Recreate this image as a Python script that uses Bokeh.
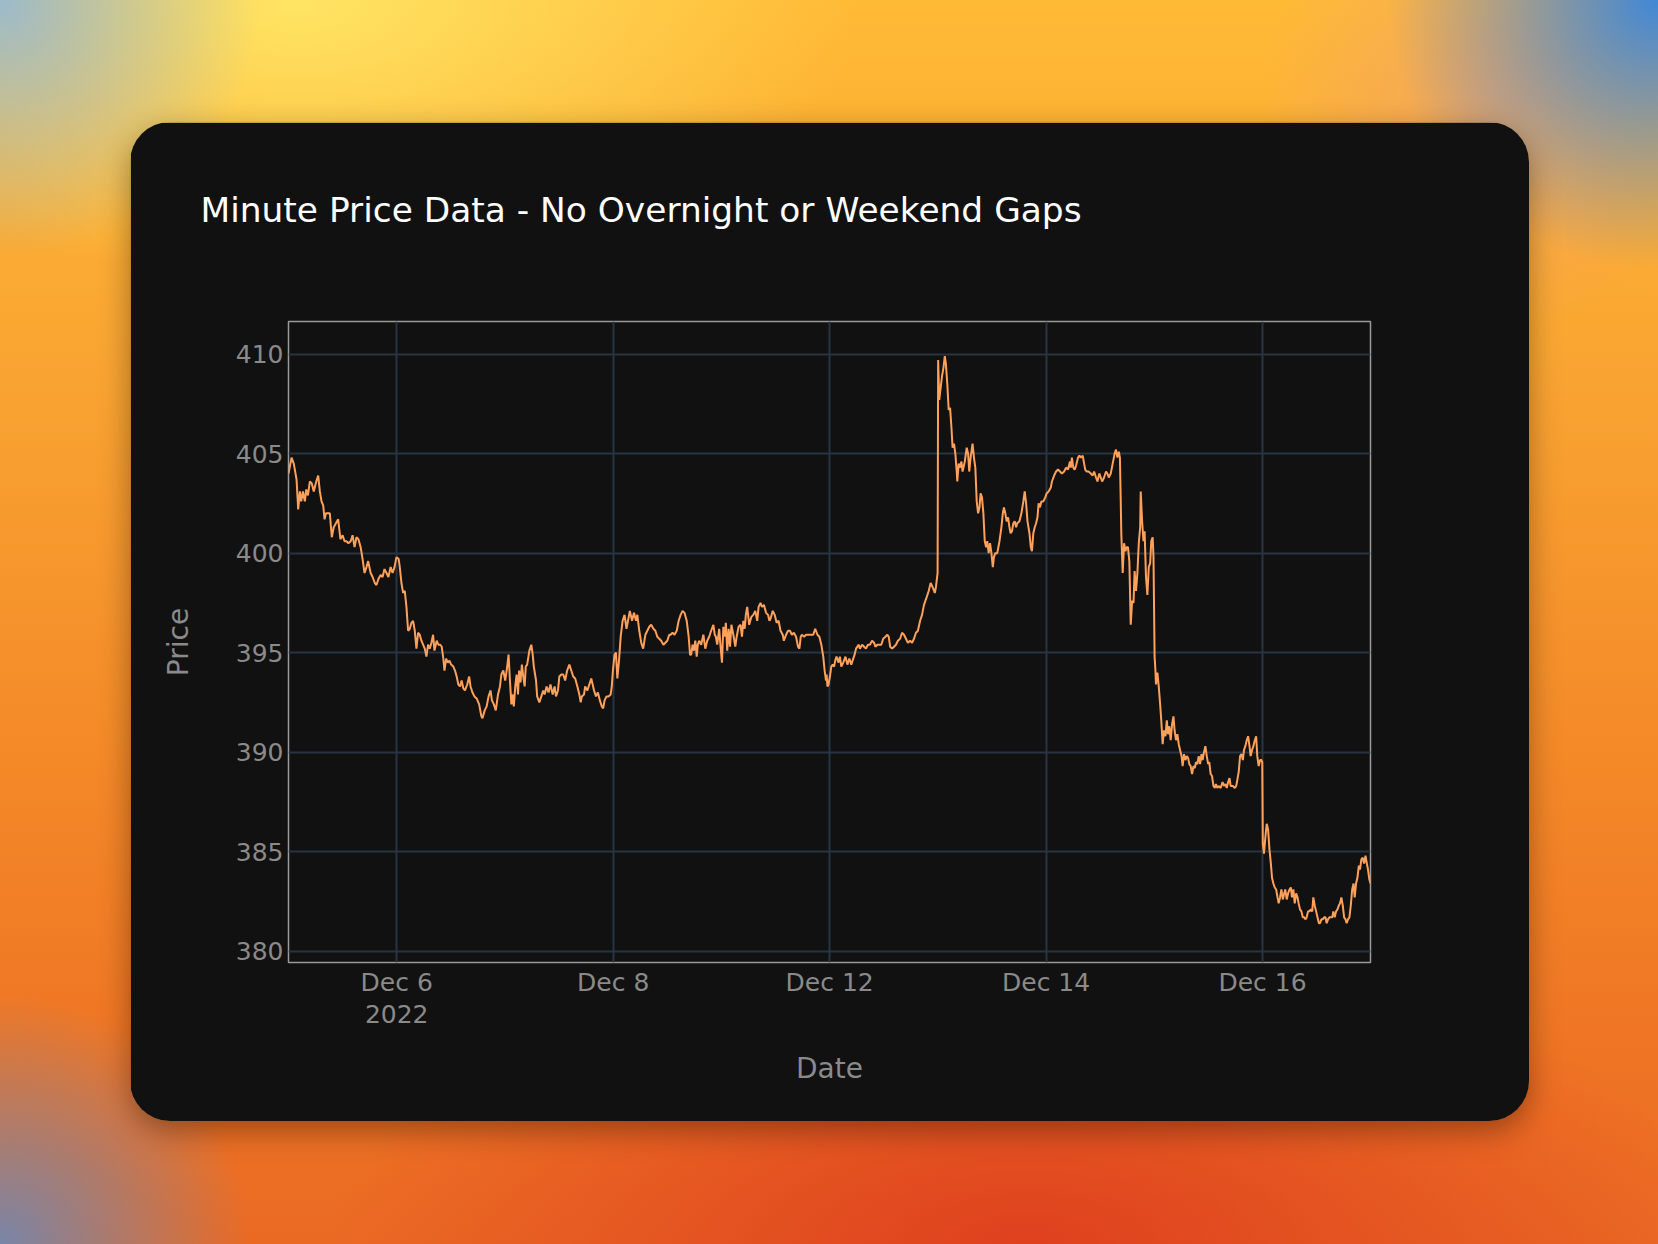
from bokeh.plotting import figure
from bokeh.models import ColumnDataSource, FixedTicker, Range1d, Title
from bokeh.layouts import column
from bokeh.embed import file_html
from bokeh.resources import INLINE

# ---------------- data ----------------
title_text = "Minute Price Data - No Overnight or Weekend Gaps"
x_title = "Date"
y_title = "Price"

# trading sessions shown (gaps for nights and weekends removed)
sessions = ["2022-12-05", "2022-12-06", "2022-12-07", "2022-12-08", "2022-12-09",
            "2022-12-12", "2022-12-13", "2022-12-14", "2022-12-15", "2022-12-16"]
minutes_per_session = 390

tick_sessions = [1, 3, 5, 7, 9]
tick_labels = ["Dec 6\n2022", "Dec 8", "Dec 12", "Dec 14", "Dec 16"]
y_ticks = [380, 385, 390, 395, 400, 405, 410]

# minute of trading (counted across sessions, no gaps) and price
minute = [
    0, 11, 19, 29, 35, 41, 46, 52, 59, 64, 70, 77, 84, 91, 100, 107, 113, 119, 125, 130,
    135, 142, 149, 156, 163, 171, 179, 187, 195, 202, 209, 216, 224, 231, 238, 245, 252, 260, 267, 274,
    281, 287, 296, 303, 311, 317, 324, 332, 339, 346, 353, 360, 368, 375, 382, 389,
    397, 401, 407, 413, 419, 425, 431, 437, 443, 449, 455, 461, 467, 473, 479, 485, 491, 497, 503, 509,
    515, 521, 526, 534, 540, 546, 552, 558, 562, 568, 574, 580, 586, 594, 600, 606, 612, 618, 624, 630,
    636, 644, 651, 656, 663, 670, 678, 687, 695, 699, 707, 714, 721, 728, 733, 740, 747, 755, 762, 767,
    774, 781, 788, 793, 798, 803, 807, 812, 817, 822, 827, 831, 836, 841, 846, 851, 855, 860, 868, 875,
    880, 884, 892, 896, 904, 911, 918, 923, 930, 937, 944, 952, 959, 964, 971, 976, 983, 990, 997, 1004,
    1012, 1019, 1026, 1033, 1041, 1048, 1053, 1057, 1065, 1069, 1077, 1084, 1091, 1096, 1101, 1108, 1115, 1122, 1129, 1134,
    1139, 1146, 1153, 1161, 1165, 1169, 1175, 1180, 1185, 1191, 1197, 1204, 1211, 1218, 1226, 1230, 1238, 1245, 1252, 1257,
    1264, 1271, 1278, 1286, 1293, 1300, 1307, 1315, 1322, 1329, 1336, 1343, 1351, 1358, 1365, 1372,
    1377, 1384, 1391, 1399, 1406, 1413, 1420, 1427, 1435, 1442, 1447, 1451, 1456, 1461, 1466, 1471, 1475, 1480, 1487, 1495,
    1502, 1509, 1516, 1523, 1531, 1536, 1540, 1545, 1552, 1557, 1562, 1567, 1572, 1576, 1581, 1586, 1591, 1596, 1603, 1610,
    1615, 1622, 1629, 1634, 1639, 1644, 1648, 1653, 1660, 1668, 1675, 1682, 1689, 1694, 1701, 1706, 1713, 1721, 1728, 1733,
    1737, 1745, 1752, 1759, 1766, 1773, 1781, 1785, 1793, 1800, 1807, 1814, 1821, 1829, 1836, 1841, 1846, 1850, 1858, 1865,
    1872, 1879, 1886, 1891, 1898, 1906, 1913, 1920, 1927, 1932, 1937, 1939, 1942, 1946, 1951, 1956, 1961, 1966, 1970, 1975,
    1982, 1987, 1992, 1999, 2007, 2014, 2021, 2028, 2035, 2040, 2045, 2050, 2055, 2059, 2067, 2074, 2081, 2088, 2095, 2103,
    2110, 2115, 2122, 2129, 2136, 2143, 2151, 2158, 2163, 2168, 2175, 2182, 2189, 2196, 2204, 2211, 2218, 2225, 2232, 2240,
    2247, 2254, 2261, 2268, 2276, 2283, 2290, 2295, 2300, 2307, 2314, 2321, 2329, 2333, 2339,
    2341, 2345, 2350, 2355, 2360, 2365, 2369, 2374, 2379, 2384, 2389, 2393, 2398, 2403, 2408, 2410, 2415, 2420, 2425, 2429,
    2437, 2444, 2449, 2453, 2458, 2465, 2470, 2475, 2480, 2485, 2490, 2494, 2499, 2504, 2509, 2514, 2518, 2523, 2528, 2533,
    2538, 2542, 2547, 2554, 2562, 2569, 2574, 2578, 2583, 2588, 2593, 2598, 2602, 2607, 2612, 2617, 2622, 2626, 2634, 2641,
    2648, 2653, 2658, 2663, 2670, 2675, 2679, 2684, 2689, 2694, 2699, 2703, 2708, 2713, 2720, 2727, 2732, 2739, 2747, 2751,
    2759, 2766, 2773, 2780, 2787, 2795, 2802, 2809, 2816, 2819, 2823, 2828, 2833, 2838, 2845, 2850, 2855, 2862, 2867, 2871,
    2876, 2883, 2891, 2898, 2903, 2910, 2915, 2922, 2927, 2932, 2939, 2946, 2951, 2956, 2963, 2970, 2977, 2982, 2987, 2992,
    2996, 2999, 3001, 3006, 3011, 3016, 3020, 3025, 3030, 3035, 3040, 3045, 3049, 3054, 3059, 3064, 3069, 3071, 3076, 3081,
    3085, 3090, 3095, 3100, 3105, 3109, 3114, 3117,
    3121, 3124, 3126, 3131, 3136, 3141, 3145, 3150, 3155, 3160, 3165, 3169, 3174, 3179, 3184, 3189, 3193, 3198, 3203, 3208,
    3213, 3218, 3222, 3227, 3232, 3237, 3242, 3246, 3251, 3256, 3261, 3266, 3270, 3275, 3280, 3285, 3290, 3294, 3299, 3304,
    3309, 3314, 3318, 3323, 3328, 3333, 3338, 3342, 3347, 3352, 3359, 3366, 3371, 3376, 3381, 3386, 3391, 3395, 3403, 3410,
    3415, 3419, 3424, 3429, 3434, 3439, 3443, 3448, 3453, 3458, 3463, 3467, 3472, 3477, 3482, 3487, 3491, 3496, 3501, 3506,
    3509, 3511, 3515, 3520, 3525, 3530, 3535, 3540, 3544, 3549, 3554, 3559, 3564, 3568, 3573, 3578, 3583, 3588, 3592, 3597,
    3602, 3607, 3612, 3616, 3621, 3626, 3631, 3636, 3640, 3645, 3650, 3655, 3660, 3665, 3669, 3674, 3679, 3684, 3689, 3693,
    3698, 3703, 3708, 3713, 3717, 3722, 3727, 3732, 3737, 3741, 3746, 3751, 3756, 3761, 3765, 3770, 3775, 3780, 3785, 3789,
    3794, 3799, 3804, 3809, 3813, 3818, 3823, 3828, 3833, 3838, 3842, 3847, 3852, 3857, 3861, 3866, 3871, 3876, 3881, 3886,
    3890, 3895, 3899,
]

price = [
    404.0, 404.8, 404.5, 403.7, 402.2, 403.1, 402.6, 403.1, 402.6, 403.2, 402.9, 403.6, 403.5, 403.1, 403.6, 403.9, 403.1, 402.6, 402.4, 401.7,
    402.0, 402.0, 402.0, 400.8, 401.3, 401.5, 401.7, 400.7, 400.9, 400.6, 400.6, 400.5, 400.6, 400.9, 400.3, 400.8, 400.7, 400.3, 399.7, 399.0,
    399.3, 399.6, 399.0, 398.8, 398.5, 398.4, 398.7, 398.9, 398.8, 399.2, 399.0, 398.8, 399.3, 399.0, 399.3, 399.8,
    399.7, 399.3, 398.5, 398.0, 398.1, 397.3, 396.1, 396.2, 396.5, 396.6, 396.1, 395.2, 396.0, 395.9, 395.6, 395.4, 395.2, 394.8, 395.4, 395.2,
    395.5, 395.9, 395.1, 395.6, 395.4, 395.4, 395.3, 394.7, 394.1, 394.7, 394.5, 394.6, 394.4, 394.3, 394.1, 393.8, 393.4, 393.3, 393.6, 393.2,
    393.1, 393.4, 393.8, 393.3, 393.0, 392.8, 392.7, 392.4, 391.8, 391.7, 392.1, 392.3, 392.8, 393.1, 392.6, 392.4, 392.1, 392.9, 393.3, 393.9,
    394.1, 393.6, 394.3, 394.9, 393.6, 392.4, 392.9, 392.3, 393.3, 393.9, 392.9, 394.1, 393.5, 394.4, 393.8, 393.3, 394.3, 394.4, 395.1, 395.4,
    394.9, 394.3, 393.6, 392.8, 392.5, 392.8, 393.1, 392.9, 393.3, 393.0, 393.4, 392.9, 393.3, 392.8, 393.1, 393.8, 393.9, 393.9, 393.6, 394.1,
    394.4, 394.1, 393.8, 393.7, 393.3, 392.9, 392.5, 392.8, 392.9, 393.3, 393.1, 393.4, 393.7, 393.4, 393.1, 392.8, 393.0, 392.6, 392.3, 392.2,
    392.6, 392.8, 392.8, 392.9, 393.3, 394.1, 394.9, 395.0, 393.7, 394.6, 395.8, 396.6, 396.9, 396.2, 396.8, 397.1, 396.6, 397.0, 396.6, 396.9,
    396.1, 395.5, 395.2, 395.9, 396.1, 396.3, 396.4, 396.2, 396.1, 395.8, 395.7, 395.6, 395.4, 395.5, 395.6, 395.9,
    395.9, 396.0, 395.9, 396.1, 396.6, 396.9, 397.1, 397.0, 396.6, 395.8, 394.9, 394.9, 395.4, 395.1, 395.6, 394.8, 395.4, 395.6, 395.4, 395.9,
    395.2, 395.6, 395.8, 396.1, 396.4, 395.9, 395.8, 395.4, 396.2, 395.3, 394.5, 396.3, 395.8, 396.5, 395.1, 396.2, 395.3, 396.4, 395.9, 395.3,
    395.8, 396.3, 396.4, 395.8, 396.6, 396.2, 396.9, 397.3, 396.4, 396.8, 396.9, 397.1, 396.6, 397.3, 397.5, 397.3, 397.4, 397.0, 396.9, 396.6,
    396.7, 397.1, 396.9, 396.5, 396.6, 396.1, 395.9, 395.6, 395.9, 396.1, 396.1, 395.9, 396.0, 395.8, 395.3, 395.2, 395.8, 395.9, 395.8, 395.9,
    395.9, 395.9, 395.9, 395.9, 396.2, 395.9, 395.8, 395.4, 394.8, 394.1, 393.6, 393.9, 393.3, 393.4, 393.8, 394.3, 394.4, 394.3, 394.6, 394.8,
    394.5, 394.8, 394.3, 394.5, 394.8, 394.4, 394.7, 394.4, 394.7, 394.9, 395.2, 395.3, 395.4, 395.2, 395.4, 395.3, 395.2, 395.4, 395.4, 395.6,
    395.5, 395.3, 395.4, 395.4, 395.4, 395.7, 395.8, 395.9, 395.8, 395.3, 395.2, 395.3, 395.4, 395.6, 395.7, 396.0, 395.9, 395.7, 395.5, 395.6,
    395.5, 395.7, 396.0, 396.1, 396.6, 396.9, 397.4, 397.6, 397.8, 398.1, 398.5, 398.3, 398.0, 398.3, 399.0,
    409.7, 407.7, 408.3, 408.9, 409.3, 409.9, 409.5, 408.5, 407.2, 407.3, 406.3, 405.3, 405.5, 405.0, 404.1, 403.6, 404.5, 404.3, 404.6, 404.1,
    404.6, 405.3, 405.0, 404.1, 404.8, 405.5, 404.8, 404.3, 402.6, 402.0, 402.3, 403.0, 402.8, 402.0, 400.6, 400.3, 400.6, 400.0, 400.5, 400.0,
    399.3, 399.8, 400.0, 400.0, 400.6, 401.3, 402.0, 402.3, 402.0, 401.6, 401.8, 401.3, 401.0, 401.1, 401.5, 401.6, 401.3, 401.5, 401.6, 402.0,
    402.6, 403.1, 402.5, 401.6, 401.0, 400.3, 400.1, 401.0, 401.3, 401.5, 401.8, 402.5, 402.3, 402.6, 402.6, 402.8, 403.0, 403.1, 403.3, 403.6,
    403.9, 404.1, 404.2, 404.1, 404.0, 404.1, 404.3, 404.2, 404.6, 404.3, 404.8, 404.3, 404.2, 404.4, 404.8, 404.9, 404.8, 404.9, 404.5, 404.2,
    404.1, 404.1, 404.0, 403.9, 404.1, 403.8, 403.6, 404.0, 403.8, 403.6, 403.8, 404.1, 404.0, 403.8, 404.0, 404.5, 405.0, 405.2, 404.8, 405.1,
    404.8, 402.6, 401.0, 399.0, 400.5, 400.1, 400.3, 400.3, 399.6, 396.4, 397.6, 397.5, 399.1, 398.1, 399.0, 400.5, 401.3, 403.1, 401.6, 400.6,
    401.1, 398.8, 397.9, 399.3, 399.5, 400.6, 400.8, 399.8,
    394.8, 394.1, 393.4, 394.0, 393.3, 392.4, 391.6, 390.4, 391.1, 390.8, 391.6, 390.9, 391.3, 390.6, 391.4, 391.8, 391.1, 390.6, 390.9, 390.4,
    390.1, 389.8, 389.3, 389.9, 389.6, 389.8, 389.7, 389.4, 389.3, 388.9, 389.3, 389.2, 389.5, 389.4, 389.8, 389.4, 389.9, 389.6, 390.0, 390.3,
    389.8, 389.4, 389.5, 388.9, 388.8, 388.3, 388.2, 388.4, 388.2, 388.3, 388.2, 388.5, 388.3, 388.4, 388.2, 388.5, 388.7, 388.3, 388.3, 388.2,
    388.3, 388.6, 389.0, 389.8, 389.9, 389.6, 390.1, 390.3, 390.6, 390.8, 390.3, 389.8, 390.1, 390.3, 390.6, 390.8, 389.8, 389.3, 389.6, 389.6,
    389.5, 385.4, 384.9, 385.7, 386.4, 386.1, 385.1, 384.4, 383.7, 383.4, 383.2, 383.1, 382.7, 382.4, 382.7, 383.1, 382.6, 382.9, 383.1, 382.6,
    382.9, 383.1, 383.2, 382.7, 383.1, 382.4, 382.9, 382.7, 382.4, 382.1, 382.0, 381.7, 381.7, 381.6, 381.7, 382.0, 382.0, 382.1, 382.0, 382.7,
    382.3, 382.0, 381.7, 381.4, 381.4, 381.6, 381.6, 381.7, 381.7, 381.4, 381.6, 381.7, 381.7, 381.7, 382.0, 381.7, 382.0, 382.1, 382.3, 382.4,
    382.7, 382.3, 381.7, 381.6, 381.4, 381.6, 381.7, 382.3, 383.1, 383.4, 382.7, 383.4, 383.7, 384.3, 384.1, 384.6, 384.7, 384.4, 384.8, 384.4,
    384.1, 383.6, 383.4,
]

# ---------------- styling ----------------
FONT = "DejaVu Sans"
LINE_COLOR = "#FFA15A"
CARD_BG = "#111111"
GRID = "#283442"
MUTED = "#8a8a8a"

src = ColumnDataSource(data=dict(minute=minute, price=price))

tick_pos = [s * minutes_per_session for s in tick_sessions]
x_end = len(sessions) * minutes_per_session - 1

p = figure(width=1399, height=999, output_backend="svg", toolbar_location=None,
           x_range=Range1d(0, x_end), y_range=Range1d(379.43, 411.64),
           min_border_left=158, min_border_right=159, min_border_top=199, min_border_bottom=159,
           background_fill_color=CARD_BG, border_fill_color=CARD_BG,
           outline_line_color="#9a9a9a", outline_line_width=1.5)

p.line(x="minute", y="price", source=src, line_color=LINE_COLOR, line_width=2)

p.xaxis.ticker = FixedTicker(ticks=tick_pos)
p.xaxis.major_label_overrides = {t: lab for t, lab in zip(tick_pos, tick_labels)}
p.yaxis.ticker = FixedTicker(ticks=y_ticks)

for ax in (p.xaxis[0], p.yaxis[0]):
    ax.axis_line_color = None
    ax.major_tick_line_color = None
    ax.minor_tick_line_color = None
    ax.major_tick_out = 0
    ax.major_tick_in = 0
    ax.major_label_text_font = FONT
    ax.major_label_text_font_size = "25px"
    ax.major_label_text_color = MUTED
    ax.axis_label_text_font = FONT
    ax.axis_label_text_font_size = "28px"
    ax.axis_label_text_color = MUTED
    ax.axis_label_text_font_style = "normal"

p.xaxis.axis_label = x_title
p.yaxis.axis_label = y_title
p.xaxis.major_label_standoff = 5
p.xaxis.major_label_text_line_height = 1.12
p.yaxis.major_label_standoff = 5
p.xaxis.axis_label_standoff = 20
p.yaxis.axis_label_standoff = 38

p.xgrid.grid_line_color = GRID
p.ygrid.grid_line_color = GRID
p.xgrid.grid_line_width = 2
p.ygrid.grid_line_width = 2

# spacer between the title and the plot frame (stacked closest to the frame)
spacer = Title(text=" ", text_font_size="1px", standoff=82, text_color=CARD_BG)
p.add_layout(spacer, "above")

main_title = Title(text=title_text, align="left", vertical_align="top", offset=-88, standoff=10,
                   text_font=FONT, text_font_size="34.4px", text_font_style="normal",
                   text_color="white")
p.add_layout(main_title, "above")

p.margin = (122, 0, 0, 130)
p.styles = {"border-radius": "40px", "overflow": "hidden",
            "box-shadow": "0 10px 30px rgba(0,0,0,0.35)"}

background = (
    "radial-gradient(circle at 0% 0%, rgba(150,185,210,0.95) 0px, rgba(150,185,210,0) 260px),"
    "radial-gradient(circle at 100% 0%, rgba(65,135,215,1) 0px, rgba(65,135,215,0) 270px),"
    "radial-gradient(circle at 90% 8%, rgba(235,155,130,0.55) 0px, rgba(235,155,130,0) 230px),"
    "radial-gradient(circle at 0% 100%, rgba(115,135,175,0.95) 0px, rgba(115,135,175,0) 250px),"
    "radial-gradient(ellipse 560px 280px at 18% 0%, rgba(255,228,100,1) 0%, rgba(255,228,100,0) 100%),"
    "radial-gradient(ellipse 700px 300px at 62% 100%, rgba(222,62,30,0.95) 0%, rgba(222,62,30,0) 100%),"
    "linear-gradient(180deg, #ffba35 0%, #f9a432 30%, #f48a28 60%, #ef7424 85%, #ea6a24 100%)"
)

root = column(p, width=1658, height=1244, sizing_mode="fixed",
              styles={"background": background})

open("out.html", "w").write(file_html(root, INLINE))
